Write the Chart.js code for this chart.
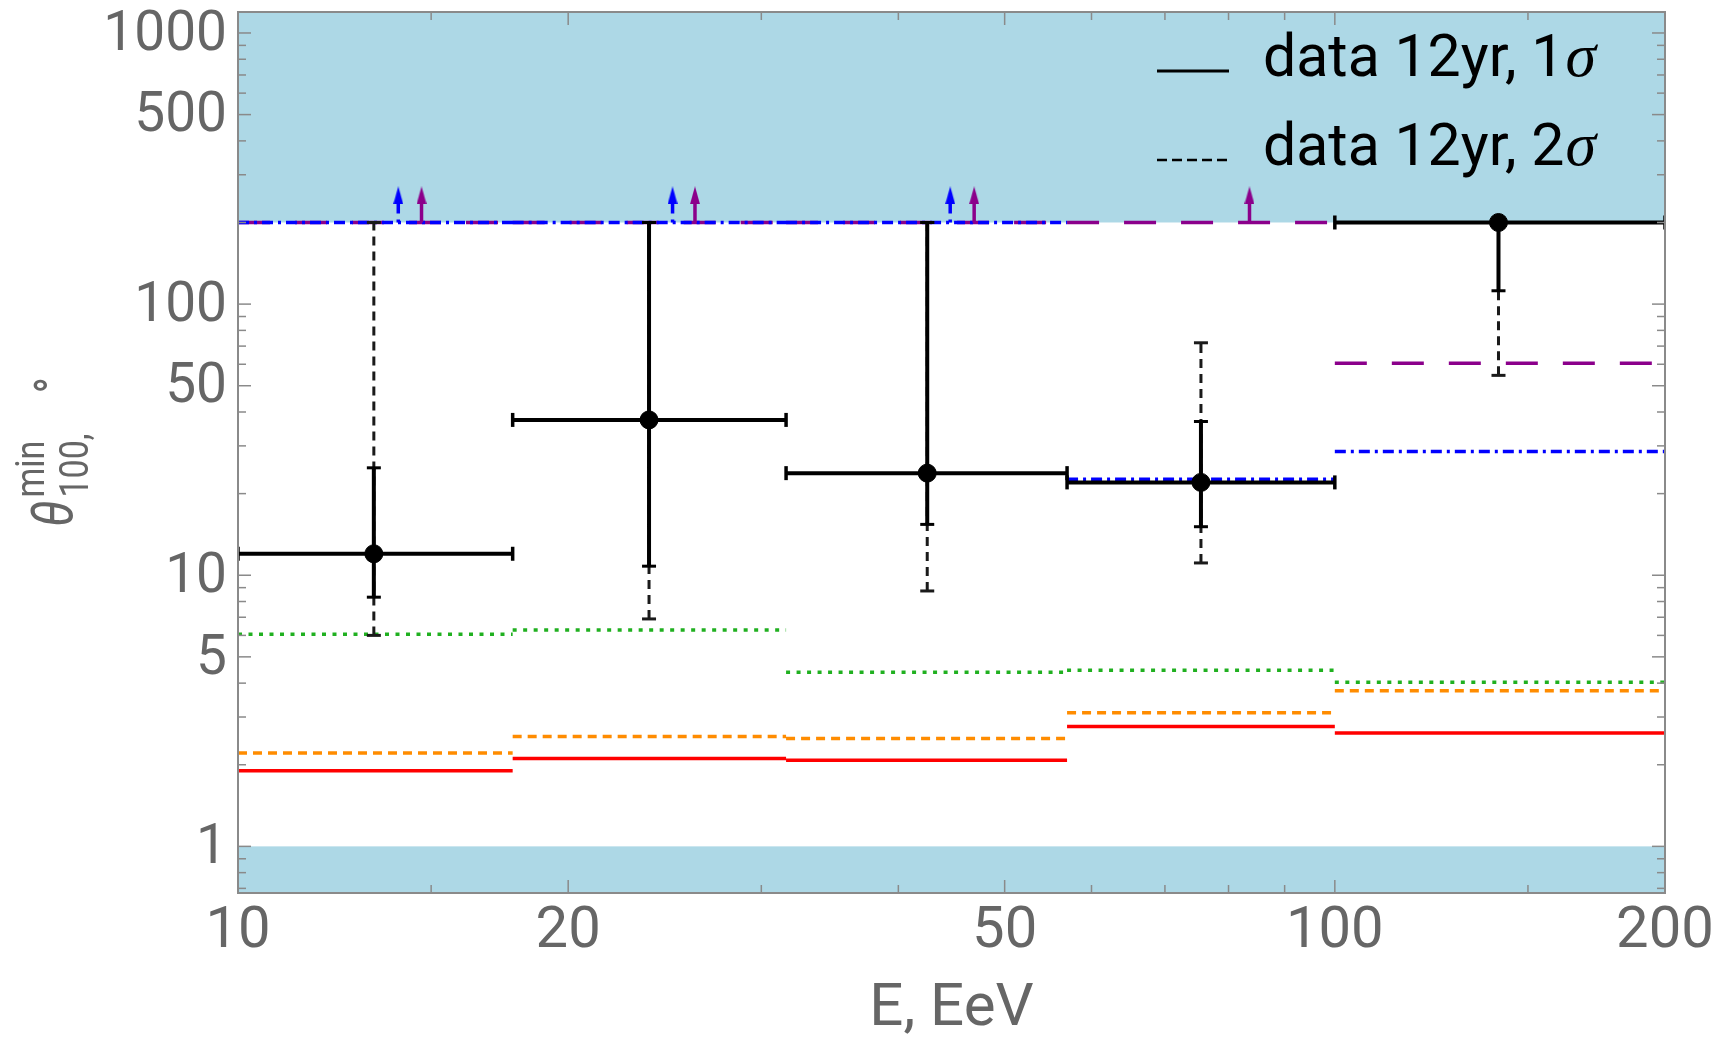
<!DOCTYPE html>
<html>
<head>
<meta charset="utf-8">
<script src="https://cdn.jsdelivr.net/npm/chart.js@4.4.1/dist/chart.umd.min.js"></script>
<style>
  html, body { margin: 0; padding: 0; background: #fff; }
  #wrap { width: 1725px; height: 1042px; }
</style>
</head>
<body>
<div id="wrap"><canvas id="chart" width="1725" height="1042"></canvas></div>
<script>
// energy bins (EeV) and their centres
const binEdges = [10, 17.8, 31.6, 57, 100, 200];
const binCenters = [13.3, 23.7, 42.5, 75.5, 141];

// data 12yr: central value, 1 sigma and 2 sigma ranges (degrees)
const dataValue = [12.0, 37.4, 23.8, 22.0, 200];
const sigma1Low = [8.3, 10.8, 15.4, 15.1, 112];
const sigma1High = [24.9, 200, 200, 36.9, 200];
const sigma2Low = [6.0, 6.9, 8.75, 11.1, 54.6];
const sigma2High = [200, 200, 200, 72, 200];

// model step lines, one value per bin
const redLine = [1.90, 2.11, 2.08, 2.77, 2.62];
const orangeLine = [2.21, 2.54, 2.50, 3.11, 3.75];
const greenLine = [6.06, 6.28, 4.39, 4.46, 4.03];
const blueLine = [200, 200, 200, 22.6, 28.6];
const purpleLine = [200, 200, 200, 200, 60.5];

// lower-limit arrows sitting on the 200 deg line
const blueArrowX = [14.0, 24.9, 44.6];
const purpleArrowX = [14.7, 26.1, 46.9, 83.6];
const arrowBase = 200;
const arrowShaftTop = 238;
const arrowHeadY = 252;

// excluded regions
const shadeAbove = 200;
const shadeBelow = 1;

// axes
const xMin = 10, xMax = 200;
const yMin = 0.673, yMax = 1195;
const xTicks = [10, 20, 50, 100, 200];
const xMinorTicks = [15, 30, 40, 60, 70, 80, 90, 150];
const yTicks = [1, 5, 10, 50, 100, 500, 1000];
const yMinorTicks = [0.7, 0.8, 0.9, 2, 3, 4, 6, 7, 8, 9, 20, 30, 40, 60, 70, 80, 90, 200, 300, 400, 600, 700, 800, 900];

const legendLabels = ['data 12yr, 1', 'data 12yr, 2'];

const GRAY = '#666666';
const FRAME = '#8a8a8a';

// helpers turning per-bin values into broken line segments
function steps(values) {
  const pts = [];
  values.forEach((v, i) => {
    pts.push({x: binEdges[i], y: v}, {x: binEdges[i + 1], y: v}, {x: binEdges[i + 1], y: null});
  });
  return pts;
}
function vbars(lo, hi) {
  const pts = [];
  binCenters.forEach((c, i) => {
    pts.push({x: c, y: lo[i]}, {x: c, y: hi[i]}, {x: c, y: null});
  });
  return pts;
}
function shafts(xs) {
  const pts = [];
  xs.forEach(x => {
    pts.push({x: x, y: arrowBase}, {x: x, y: arrowShaftTop}, {x: x, y: null});
  });
  return pts;
}
function arrowHead(color) {
  const c = document.createElement('canvas');
  c.width = 10; c.height = 18;
  const g = c.getContext('2d');
  g.fillStyle = color;
  g.beginPath();
  g.moveTo(5, 0);
  g.lineTo(10, 18);
  g.lineTo(0, 18);
  g.closePath();
  g.fill();
  return c;
}

const lineDefaults = {showLine: true, pointRadius: 0, spanGaps: false, fill: false};

// light blue excluded regions behind the data
const shading = {
  id: 'shading',
  beforeDatasetsDraw(chart) {
    const {ctx, chartArea: a, scales: {y}} = chart;
    ctx.save();
    ctx.fillStyle = '#add8e6';
    const yHi = y.getPixelForValue(shadeAbove);
    ctx.fillRect(a.left, a.top, a.right - a.left, yHi - a.top);
    const yLo = y.getPixelForValue(shadeBelow);
    ctx.fillRect(a.left, yLo, a.right - a.left, a.bottom - yLo);
    ctx.restore();
  }
};

// frame with inward ticks on all four sides
const frame = {
  id: 'frame',
  afterDraw(chart) {
    const {ctx, chartArea: a, scales: {x, y}} = chart;
    ctx.save();
    ctx.strokeStyle = FRAME;
    ctx.lineWidth = 1.5;
    const seg = (x1, y1, x2, y2) => { ctx.beginPath(); ctx.moveTo(x1, y1); ctx.lineTo(x2, y2); ctx.stroke(); };
    const xt = (v, len) => {
      const p = x.getPixelForValue(v);
      seg(p, a.bottom, p, a.bottom - len);
      seg(p, a.top, p, a.top + len);
    };
    const yt = (v, len) => {
      const p = y.getPixelForValue(v);
      if (p < a.top || p > a.bottom) return;
      seg(a.left, p, a.left + len, p);
      seg(a.right, p, a.right - len, p);
    };
    xTicks.forEach(v => xt(v, 13));
    xMinorTicks.forEach(v => xt(v, 8));
    yTicks.forEach(v => yt(v, 13));
    yMinorTicks.forEach(v => yt(v, 8));
    ctx.lineWidth = 2;
    ctx.strokeRect(a.left, a.top, a.right - a.left, a.bottom - a.top);
    ctx.restore();
  }
};

// legend in the upper right and the y axis title
const annotations = {
  id: 'annotations',
  afterDraw(chart) {
    const {ctx, chartArea: a} = chart;
    ctx.save();
    // legend
    const rows = [{y: 71, dash: []}, {y: 160, dash: [10, 5]}];
    rows.forEach((r, i) => {
      ctx.strokeStyle = '#000';
      ctx.lineWidth = i === 0 ? 3 : 2.5;
      ctx.setLineDash(r.dash);
      ctx.beginPath();
      ctx.moveTo(a.right - 508, r.y);
      ctx.lineTo(a.right - 436, r.y);
      ctx.stroke();
      ctx.setLineDash([]);
      ctx.fillStyle = '#000';
      ctx.textBaseline = 'alphabetic';
      ctx.font = '59px Roboto';
      const tx = a.right - 402;
      ctx.fillText(legendLabels[i], tx, r.y + 5);
      const w = ctx.measureText(legendLabels[i]).width;
      ctx.font = 'italic 62px "Liberation Serif"';
      ctx.fillText('\u03c3', tx + w + 1, r.y + 5);
    });

    // y axis title: theta^min_100, deg
    ctx.translate(72, 527);
    ctx.rotate(-Math.PI / 2);
    ctx.scale(1, 1.2);
    ctx.fillStyle = GRAY;
    ctx.textBaseline = 'alphabetic';
    ctx.font = 'italic 48px Roboto';
    ctx.fillText('\u03b8', 0, 0);
    let pos = ctx.measureText('\u03b8').width + 3;
    ctx.font = '34px Roboto';
    ctx.fillText('min', pos, -23);
    ctx.fillText('100,', pos, 13);
    pos += Math.max(ctx.measureText('min').width, ctx.measureText('100,').width) + 40;
    ctx.font = '44px Roboto';
    ctx.fillText('\u00b0', pos, 0);
    ctx.restore();
  }
};

const ctx = document.getElementById('chart').getContext('2d');
new Chart(ctx, {
  type: 'scatter',
  data: {
    datasets: [
      {
        label: 'data points',
        data: binCenters.map((c, i) => ({x: c, y: dataValue[i]})),
        showLine: false, pointRadius: 9, pointBackgroundColor: '#000', pointBorderColor: '#000',
        order: 0
      },
      {
        label: 'energy bins',
        data: binEdges.slice(0, -1).flatMap((e, i) => [
          {x: e, y: dataValue[i]}, {x: binEdges[i + 1], y: dataValue[i]}, {x: e, y: null}
        ]),
        ...lineDefaults, borderColor: '#000', borderWidth: 4,
        pointRadius: 7, pointStyle: 'line', rotation: 90, pointBorderColor: '#000', pointBorderWidth: 3.5,
        order: 1
      },
      {
        label: 'data 12yr, 1 sigma',
        data: vbars(sigma1Low, sigma1High),
        ...lineDefaults, borderColor: '#000', borderWidth: 4,
        pointRadius: 7, pointStyle: 'line', pointBorderColor: '#000', pointBorderWidth: 3,
        order: 2
      },
      {
        label: 'data 12yr, 2 sigma',
        data: vbars(sigma2Low, sigma2High),
        ...lineDefaults, borderColor: '#1a1a1a', borderWidth: 3, borderDash: [9, 6],
        pointRadius: 7, pointStyle: 'line', pointBorderColor: '#1a1a1a', pointBorderWidth: 3,
        order: 3
      },
      {
        label: 'blue arrow heads',
        data: blueArrowX.map(x => ({x: x, y: arrowHeadY})),
        showLine: false, pointRadius: 8, pointStyle: arrowHead('#0000ff'),
        order: 4
      },
      {
        label: 'purple arrow heads',
        data: purpleArrowX.map(x => ({x: x, y: arrowHeadY})),
        showLine: false, pointRadius: 8, pointStyle: arrowHead('#8b008b'),
        order: 4
      },
      {
        label: 'blue arrows',
        data: shafts(blueArrowX),
        ...lineDefaults, borderColor: '#0000ff', borderWidth: 3.5, borderDash: [3, 6, 10, 5],
        order: 5
      },
      {
        label: 'purple arrows',
        data: shafts(purpleArrowX),
        ...lineDefaults, borderColor: '#8b008b', borderWidth: 3.5,
        order: 5
      },
      {
        label: 'blue',
        data: steps(blueLine),
        ...lineDefaults, borderColor: '#0000ff', borderWidth: 3.5, borderDash: [11, 5, 3, 5],
        order: 6
      },
      {
        label: 'purple',
        data: steps(purpleLine),
        ...lineDefaults, borderColor: '#8b008b', borderWidth: 3.5, borderDash: [32, 25],
        order: 7
      },
      {
        label: 'green',
        data: steps(greenLine),
        ...lineDefaults, borderColor: '#20b020', borderWidth: 3.5, borderDash: [4, 6.5],
        order: 8
      },
      {
        label: 'orange',
        data: steps(orangeLine),
        ...lineDefaults, borderColor: '#ff8c00', borderWidth: 3.5, borderDash: [9, 6],
        order: 9
      },
      {
        label: 'red',
        data: steps(redLine),
        ...lineDefaults, borderColor: '#ff0000', borderWidth: 3.5,
        order: 10
      }
    ]
  },
  options: {
    responsive: false,
    animation: false,
    devicePixelRatio: 1,
    layout: {padding: {left: 0, right: 60, top: 12, bottom: 0}},
    plugins: {legend: {display: false}, tooltip: {enabled: false}},
    scales: {
      x: {
        type: 'logarithmic',
        min: xMin, max: xMax,
        grid: {display: false, drawTicks: false},
        border: {display: false},
        afterBuildTicks: s => { s.ticks = xTicks.map(v => ({value: v})); },
        afterFit: s => { s.height = 149; s.paddingLeft = 0; s.paddingRight = 0; },
        ticks: {
          autoSkip: false, maxRotation: 0, padding: 5,
          color: GRAY, font: {family: 'Roboto', size: 58},
          callback: v => String(v)
        },
        title: {
          display: true, text: 'E, EeV', color: GRAY,
          font: {family: 'Roboto', size: 60, lineHeight: 0.8},
          padding: {top: 0, bottom: 8}
        }
      },
      y: {
        type: 'logarithmic',
        min: yMin, max: yMax,
        grid: {display: false, drawTicks: false},
        border: {display: false},
        afterBuildTicks: s => { s.ticks = yTicks.map(v => ({value: v})); },
        afterFit: s => { s.width = 238; s.paddingTop = 0; s.paddingBottom = 0; },
        ticks: {
          autoSkip: false, padding: 11, labelOffset: 3,
          color: GRAY, font: {family: 'Roboto', size: 55},
          callback: v => String(v)
        }
      }
    }
  },
  plugins: [shading, frame, annotations]
});
</script>
</body>
</html>
